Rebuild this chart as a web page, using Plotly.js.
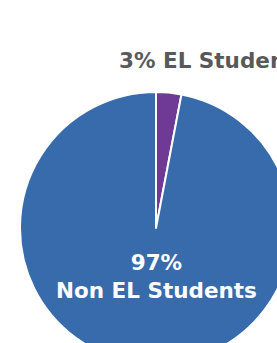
<!DOCTYPE html>
<html>
<head>
<meta charset="utf-8">
<script src="https://cdn.plot.ly/plotly-3.0.1.min.js"></script>
<style>
html,body{margin:0;padding:0;overflow:hidden;background:#fff;}
#chart{width:312px;height:364px;}
</style>
</head>
<body>
<div id="chart"></div>
<script>
const labels = ["EL Students", "Non EL Students"];
const values = [3, 97];
const colors = ["#6f3a96", "#376bac"];

const trace = {
  type: "pie",
  labels: labels,
  values: values,
  sort: false,
  direction: "clockwise",
  rotation: 0,
  textinfo: "none",
  hoverinfo: "none",
  marker: {colors: colors, line: {color: "#ffffff", width: 2}},
  domain: {x: [0, 1], y: [0, 1]},
  showlegend: false
};

const total = values.reduce((a, b) => a + b, 0);
const pct = values.map(v => Math.round(v / total * 100) + "%");

const layout = {
  width: 312,
  height: 364,
  margin: {l: 20, r: 20, t: 92, b: 0, pad: 0},
  paper_bgcolor: "#ffffff",
  showlegend: false,
  annotations: [
    {
      text: "<b>" + pct[0] + " " + labels[0] + "</b>",
      xref: "paper", yref: "paper",
      x: 0.355, y: 1.114, xanchor: "left", yanchor: "middle",
      showarrow: false,
      font: {family: "DejaVu Sans, sans-serif", size: 21.5, color: "#58595b"}
    },
    {
      text: "<b>" + pct[1] + "<br>" + labels[1] + "</b>",
      xref: "paper", yref: "paper",
      x: 0.5, y: 0.322, xanchor: "center", yanchor: "middle",
      showarrow: false,
      font: {family: "DejaVu Sans, sans-serif", size: 21.5, color: "#ffffff"}
    }
  ]
};

Plotly.newPlot("chart", [trace], layout, {displayModeBar: false, staticPlot: true});
</script>
</body>
</html>
